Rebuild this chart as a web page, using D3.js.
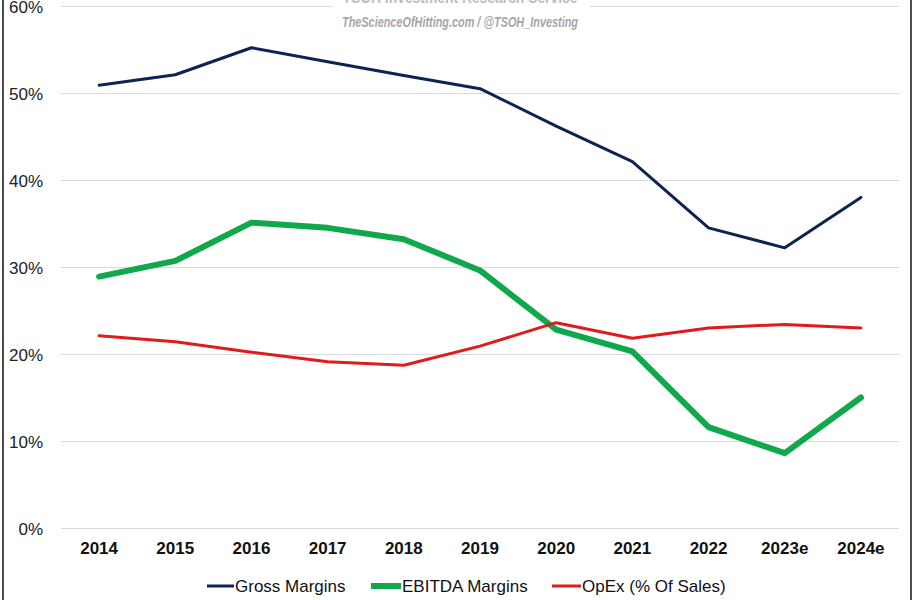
<!DOCTYPE html>
<html>
<head>
<meta charset="utf-8">
<script src="https://cdn.jsdelivr.net/npm/d3@7/dist/d3.min.js"></script>
<style>
  html, body { margin: 0; padding: 0; background: #fff; }
  svg { display: block; font-family: "Liberation Sans", Arial, sans-serif; }
</style>
</head>
<body>
<svg id="chart" width="916" height="600"></svg>
<script>
const years = ["2014","2015","2016","2017","2018","2019","2020","2021","2022","2023e","2024e"];
const grossMargins = [50.9, 52.1, 55.2, 53.6, 52.0, 50.5, 46.2, 42.1, 34.5, 32.2, 38.0];
const ebitdaMargins = [28.9, 30.7, 35.1, 34.5, 33.2, 29.6, 22.8, 20.3, 11.6, 8.6, 15.0];
const opexPct = [22.1, 21.4, 20.2, 19.1, 18.7, 20.9, 23.6, 21.8, 23.0, 23.4, 23.0];
const yTicks = [0, 10, 20, 30, 40, 50, 60];
const seriesNames = ["Gross Margins", "EBITDA Margins", "OpEx (% Of Sales)"];
const seriesColors = ["#0c2354", "#0fa84a", "#e01b1b"];
const seriesWidths = [3, 6, 3];
const titleText = "TSOH Investment Research Service";
const subtitleText = "TheScienceOfHitting.com / @TSOH_Investing";

(function () {
const svg = d3.select("#chart");
const W = 916, H = 600;
const pLeft = 61, pRight = 899, pTop = 6, pBottom = 528;

const x = d3.scaleBand().domain(years).range([pLeft, pRight]);
const y = d3.scaleLinear().domain([0, 60]).range([pBottom, pTop]);
const cx = d => x(d) + x.bandwidth() / 2;

// gridlines + y labels
const yAxis = d3.axisLeft(y).tickValues(yTicks).tickFormat(d => d + "%").tickSize(-(pRight - pLeft)).tickPadding(18);
const gy = svg.append("g").attr("transform", `translate(${pLeft},0)`).call(yAxis);
gy.select(".domain").remove();
gy.selectAll(".tick line").attr("stroke", "#d9d9d9").attr("stroke-width", 1).attr("shape-rendering", "crispEdges");
gy.selectAll(".tick text").attr("fill", "#222").attr("font-size", 17).attr("font-family", "'Liberation Sans', Arial, sans-serif").attr("dy", "0.36em");

// x axis labels
const xAxis = d3.axisBottom(x).tickSize(0).tickPadding(14);
const gx = svg.append("g").attr("transform", `translate(0,${pBottom})`).call(xAxis);
gx.select(".domain").remove();
gx.selectAll(".tick text").attr("fill", "#111").attr("font-size", 17).attr("font-weight", "bold").attr("font-family", "'Liberation Sans', Arial, sans-serif");

// title box covering gridline
svg.append("rect").attr("x", 332).attr("y", 0).attr("width", 258).attr("height", 34).attr("fill", "#fff");
svg.append("text").attr("x", 460).attr("y", 3).attr("text-anchor", "middle")
  .attr("font-size", 17).attr("font-weight", "bold").attr("fill", "#bdbdbd")
  .attr("textLength", 235).attr("lengthAdjust", "spacingAndGlyphs").text(titleText);
svg.append("text").attr("x", 460).attr("y", 27).attr("text-anchor", "middle")
  .attr("font-size", 14).attr("font-weight", "bold").attr("font-style", "italic").attr("fill", "#a6a6a6")
  .attr("textLength", 236).attr("lengthAdjust", "spacingAndGlyphs").text(subtitleText);

// lines
const data = [grossMargins, ebitdaMargins, opexPct];
const line = d3.line().x((d, i) => cx(years[i])).y(d => y(d));
[0, 1, 2].forEach(k => {
  svg.append("path").datum(data[k]).attr("d", line).attr("fill", "none")
    .attr("stroke", seriesColors[k]).attr("stroke-width", seriesWidths[k])
    .attr("stroke-linejoin", "round").attr("stroke-linecap", "round");
});

// legend
const legendX = [207, 371, 552];
const legendLen = [27, 30, 29];
const ly = 586;
seriesNames.forEach((n, i) => {
  svg.append("line").attr("x1", legendX[i]).attr("x2", legendX[i] + legendLen[i]).attr("y1", ly).attr("y2", ly)
    .attr("stroke", seriesColors[i]).attr("stroke-width", seriesWidths[i]);
  svg.append("text").attr("x", legendX[i] + legendLen[i] + 1).attr("y", ly).attr("dy", "0.36em")
    .attr("font-size", 17).attr("fill", "#111").text(n);
});

// frame lines
svg.append("line").attr("x1", 3).attr("x2", 3).attr("y1", 0).attr("y2", H).attr("stroke", "#111").attr("stroke-width", 1.5);
svg.append("line").attr("x1", 911).attr("x2", 911).attr("y1", 0).attr("y2", H).attr("stroke", "#111").attr("stroke-width", 1.5);
})();
</script>
</body>
</html>
